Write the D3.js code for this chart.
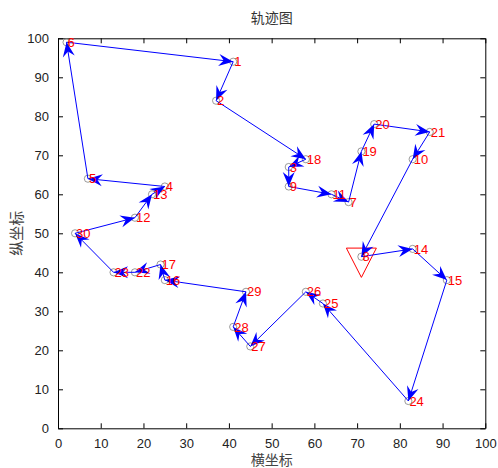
<!DOCTYPE html>
<html>
<head>
<meta charset="utf-8">
<script src="https://cdn.jsdelivr.net/npm/d3@7"></script>
<style>
  body { margin: 0; background: #fff; }
  svg text { font-family: "Liberation Sans", Arial, sans-serif; }
  .cjk { font-family: "Noto Sans CJK SC", sans-serif; }
</style>
</head>
<body>
<div id="chart"></div>
<script>
// city coordinates (city number = index + 1)
const cityX = [41, 37, 54, 25, 7, 2, 68, 71, 54, 83, 64, 18, 22, 83, 91, 25, 24, 58, 71, 74, 87, 18, 13, 82, 62, 58, 45, 41, 44, 4]
const cityY = [94, 84, 67, 62, 64, 99, 58, 44, 62, 69, 60, 54, 60, 46, 38, 38, 42, 69, 71, 78, 76, 40, 40, 7, 32, 35, 21, 26, 35, 50]

// visiting order, starts and ends at city 8
const route = [8, 14, 15, 24, 25, 26, 27, 28, 29, 16, 17, 22, 23, 30, 12, 13, 4, 5, 6, 1, 2, 18, 3, 9, 11, 7, 19, 20, 21, 10, 8]

const tickValues = [0, 10, 20, 30, 40, 50, 60, 70, 80, 90, 100]

const svgWidth = 498
const svgHeight = 468
let margin = { top: 38.3, right: 12.7, bottom: 39.7, left: 58 }
let width = svgWidth - margin.left - margin.right
let height = svgHeight - margin.top - margin.bottom

let svg = d3.select("#chart").append("svg")
	.attr("width", svgWidth)
	.attr("height", svgHeight)

let chartGroup = svg.append("g")
	.attr("transform", `translate(${margin.left}, ${margin.top})`)

let x = d3.scaleLinear().domain([0, 100]).range([0, width])
let y = d3.scaleLinear().domain([0, 100]).range([height, 0])

// axes with inward ticks, mirrored on top/right
function styleAxis(g) {
	g.select(".domain").attr("stroke", "#000").attr("stroke-width", 1)
	g.selectAll(".tick line").attr("stroke", "#000")
	g.selectAll(".tick text").attr("fill", "#222").attr("font-size", 13)
}
chartGroup.append("g")
	.attr("transform", `translate(0, ${height})`)
	.call(d3.axisBottom(x).tickValues(tickValues).tickSizeInner(-5).tickSizeOuter(0).tickPadding(10))
	.call(styleAxis)
chartGroup.append("g")
	.call(d3.axisLeft(y).tickValues(tickValues).tickSizeInner(-5).tickSizeOuter(0).tickPadding(9))
	.call(styleAxis)
chartGroup.append("g")
	.call(d3.axisTop(x).tickValues(tickValues).tickSizeInner(-5).tickSizeOuter(0).tickFormat(""))
	.call(styleAxis)
chartGroup.append("g")
	.attr("transform", `translate(${width}, 0)`)
	.call(d3.axisRight(y).tickValues(tickValues).tickSizeInner(-5).tickSizeOuter(0).tickFormat(""))
	.call(styleAxis)

// arrow marker
svg.append("defs").append("marker")
	.attr("id", "arrow")
	.attr("markerUnits", "userSpaceOnUse")
	.attr("viewBox", "-15 -7 16 14")
	.attr("refX", 0).attr("refY", 0)
	.attr("markerWidth", 16).attr("markerHeight", 14)
	.attr("orient", "auto")
	.append("path")
	.attr("d", "M0,0 L-14.5,-6 L-9.5,0 L-14.5,6 Z")
	.attr("fill", "#0000ff")

// city circles
chartGroup.selectAll(".city")
	.data(cityX)
	.enter()
	.append("circle")
	.attr("cx", d => x(d))
	.attr("cy", (d, i) => y(cityY[i]))
	.attr("r", 3.6)
	.attr("fill", "none")
	.attr("stroke", "#808080")
	.attr("stroke-width", 0.8)

// start marker (red down triangle)
let sx = x(cityX[route[0] - 1]), sy = y(cityY[route[0] - 1])
chartGroup.append("path")
	.attr("d", `M${sx - 15},${sy - 8.6} L${sx + 15},${sy - 8.6} L${sx},${sy + 20.7} Z`)
	.attr("fill", "none")
	.attr("stroke", "#ff0000")
	.attr("stroke-width", 1)

// path segments with arrowheads
let legs = d3.pairs(route)
chartGroup.selectAll(".leg")
	.data(legs)
	.enter()
	.append("line")
	.attr("x1", d => x(cityX[d[0] - 1]))
	.attr("y1", d => y(cityY[d[0] - 1]))
	.attr("x2", d => x(cityX[d[1] - 1]))
	.attr("y2", d => y(cityY[d[1] - 1]))
	.attr("stroke", "#0000ff")
	.attr("stroke-width", 1)
	.attr("marker-end", "url(#arrow)")

// city number labels
chartGroup.selectAll(".label")
	.data(cityX)
	.enter()
	.append("text")
	.attr("x", d => x(d) + 1)
	.attr("y", (d, i) => y(cityY[i]))
	.attr("dy", "0.36em")
	.attr("font-size", 13)
	.attr("fill", "#ff0000")
	.text((d, i) => i + 1)

// title and axis labels
svg.append("text")
	.attr("class", "cjk")
	.attr("x", margin.left + width / 2)
	.attr("y", 23)
	.attr("text-anchor", "middle")
	.attr("font-size", 14)
	.attr("fill", "#333")
	.text("轨迹图")

svg.append("text")
	.attr("class", "cjk")
	.attr("x", margin.left + width / 2)
	.attr("y", 465)
	.attr("text-anchor", "middle")
	.attr("font-size", 14)
	.attr("fill", "#444")
	.text("横坐标")

svg.append("text")
	.attr("class", "cjk")
	.attr("transform", `translate(22, ${margin.top + height / 2}) rotate(-90)`)
	.attr("text-anchor", "middle")
	.attr("font-size", 15)
	.attr("fill", "#444")
	.text("纵坐标")
</script>
</body>
</html>
